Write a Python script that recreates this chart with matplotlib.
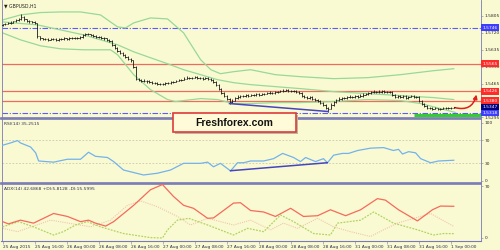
import matplotlib

matplotlib.use("Agg")
import matplotlib.pyplot as plt
import numpy as np
from matplotlib.patches import Rectangle
from matplotlib.transforms import blended_transform_factory

# GBPUSD H1, prices kept in pips above BASE
BASE = 1.5300
first_open_pips = 458
close_pips = [
    462, 465, 470, 472, 478, 485, 490, 500, 488, 480, 478, 474, 470, 402,
    392, 390, 388, 386, 390, 388, 385, 388, 390, 392, 390, 393, 395, 392, 395, 398,
    408, 415, 412, 410, 405, 400, 398, 395, 392, 385, 380,
    360, 345, 330, 320, 310, 300, 290, 282, 250, 190,
    185, 180, 178, 176, 175, 170, 168, 165, 163, 165, 168, 170, 172, 175,
    180, 183, 185, 190, 195, 193, 195, 198, 195, 193, 190, 192, 188, 185,
    175, 160, 140, 120, 105, 90, 72, 80, 95,
    100, 105, 102, 108, 105, 110, 108, 112, 110, 113,
    115, 118, 120, 118, 122, 125, 128, 130, 132, 128, 130, 127, 125, 120,
    105, 100, 95, 98, 90, 85, 80, 70, 60, 45, 40,
    60, 75, 85, 90, 95, 92, 98, 100, 98, 102, 100, 105,
    110, 115, 118, 122, 125, 123, 125, 128, 125, 122, 125,
    110, 100, 105, 98, 102, 95, 100, 105, 100, 98,
    80, 65, 55, 45, 42, 40, 42, 38, 40, 42, 44, 42, 45, 47,
]
high_pips = [
    466, 470, 474, 478, 482, 490, 496, 515, 504, 492, 486, 482, 478, 472,
    405, 396, 394, 392, 395, 394, 392, 393, 395, 397, 396, 398, 400, 399, 400, 404,
    413, 420, 419, 416, 414, 409, 404, 402, 399, 396, 390,
    383, 364, 350, 335, 324, 314, 305, 294, 285, 254,
    195, 190, 186, 183, 181, 179, 175, 172, 170, 170, 173, 175, 177, 180,
    185, 188, 190, 196, 201, 199, 200, 204, 202, 199, 197, 197, 196, 193,
    189, 178, 164, 144, 125, 110, 94, 86, 100,
    106, 110, 109, 113, 112, 115, 114, 117, 116, 118,
    120, 123, 126, 124, 127, 130, 134, 136, 137, 136, 135, 134, 132, 129,
    123, 110, 104, 103, 102, 95, 90, 84, 75, 64, 50,
    66, 80, 90, 96, 100, 99, 103, 106, 104, 108, 106, 111,
    116, 120, 124, 128, 131, 129, 131, 134, 132, 129, 130,
    128, 114, 110, 109, 107, 106, 105, 110, 109, 104,
    101, 84, 69, 58, 49, 46, 47, 45, 44, 46, 48, 47, 49, 50,
]
low_pips = [
    455, 458, 462, 466, 468, 474, 480, 486, 482, 474, 472, 468, 462, 396,
    386, 384, 382, 380, 382, 383, 380, 381, 384, 386, 385, 386, 389, 387, 388, 391,
    395, 404, 407, 405, 400, 395, 392, 390, 386, 380, 372,
    355, 338, 325, 314, 303, 294, 284, 275, 245, 182,
    178, 174, 172, 170, 169, 164, 162, 158, 156, 158, 160, 163, 165, 168,
    171, 176, 178, 181, 186, 188, 189, 191, 190, 187, 185, 186, 182, 178,
    170, 152, 132, 112, 98, 82, 65, 68, 76,
    90, 95, 97, 98, 100, 101, 103, 104, 105, 106,
    109, 111, 114, 113, 114, 118, 121, 123, 126, 122, 123, 121, 119, 113,
    98, 94, 88, 90, 84, 78, 73, 62, 52, 38, 25,
    36, 55, 70, 80, 85, 86, 88, 93, 92, 94, 95, 96,
    100, 106, 110, 113, 117, 118, 118, 120, 120, 116, 117,
    104, 93, 95, 92, 93, 89, 90, 96, 94, 92,
    74, 58, 49, 40, 37, 35, 36, 33, 34, 36, 38, 37, 38, 42,
]

# band lines (bar position, pips)
upper_bars = [0, 6.7, 14.2, 21.7, 29.2, 36.7, 40.4, 43.1, 46.1, 49.1, 55.4, 61.8, 67.8,
              74.2, 78, 81.6, 86.5, 92.9, 102.2, 111.6, 124, 136.7, 149, 161.4, 169]
upper_pips = [485, 510, 522, 525, 525, 510, 475, 450, 445, 470, 495, 490, 420,
              285, 235, 215, 225, 235, 210, 200, 190, 195, 210, 230, 240]
middle_bars = [0, 13.1, 21.7, 30.3, 36.7, 43.1, 49.1, 55.4, 61.8, 67.8, 74.2, 80.5,
               86.5, 92.9, 102.2, 111.6, 124, 136.7, 149, 161.4, 169]
middle_pips = [475, 460, 435, 410, 385, 360, 325, 295, 265, 235, 210, 185,
               170, 160, 150, 140, 125, 115, 105, 95, 85]
lower_bars = [0, 6.7, 14.2, 21.7, 30.3, 40.4, 43.1, 46.1, 49.1, 55.4, 61.8, 64.8, 67.8,
              74.2, 80.5, 86.5, 92.9, 102.2, 111.6, 124, 136.7, 149, 156.6, 164, 169.7]
lower_pips = [420, 385, 355, 340, 335, 335, 310, 260, 210, 135, 85, 75, 80,
              90, 85, 65, 65, 70, 70, 75, 85, 80, 65, 40, 20]

# RSI(14)
rsi_bars = [0, 3, 5.6, 6.7, 10.5, 12.4, 13.5, 19.1, 24.3, 29.2, 32.2, 34.8, 39.3, 41.6,
            45.3, 52.8, 58, 62.9, 67.8, 74.2, 76.8, 79, 81.6, 85.4, 88, 90.3, 92.9,
            97.8, 101.5, 104.9, 109, 111.6, 113.5, 117.2, 120.2, 121.7, 124, 127.3,
            129.6, 133, 137.8, 142.7, 146.4, 148.3, 149.8, 152.1, 154.7, 156.6, 160.3,
            163.3, 169]
rsi_vals = [61, 65, 69, 65, 58, 48, 34, 32, 37, 37, 49, 42, 40, 33,
            18.5, 10, 13, 18.5, 30, 30, 32, 24, 30, 17, 31, 31, 34,
            34, 38, 47, 40, 33, 40, 33, 38, 31, 44, 47,
            47, 52, 56, 57, 52, 54, 46, 50, 48, 38, 31,
            34, 35.25]

# ADX(14) with +DI / -DI
adx_bars = [0, 2.2, 6.7, 11.6, 19.1, 24.3, 29.2, 32.2, 34.8, 38.6, 41.6, 49.1, 55.4,
            59.9, 64, 67.8, 71.5, 76.8, 79, 86.5, 89.1, 92.9, 97.8, 102.2, 107.9,
            112.7, 118, 122.8, 128.5, 134.1, 140.4, 143.4, 148.3, 155.4, 161, 164, 169]
adx_vals = [22, 19, 24, 20, 33, 29, 22, 24, 20, 16, 22, 44, 65,
            72, 56, 44, 40, 26.5, 27, 47, 47.5, 37, 35, 29, 40,
            29, 30, 38, 30, 38, 53, 51, 38, 23, 38, 43, 42.69]
pdi_bars = [0, 6, 11.6, 19.1, 22.8, 27.3, 31.8, 36.7, 45.3, 55.4, 59.9, 61.8, 65.5,
            69.7, 76.8, 86.5, 91.8, 97.8, 104.1, 109, 116.5, 122.8, 125.5, 134.1,
            139, 146.4, 155.4, 161.4, 165.2, 169]
pdi_vals = [15, 22, 15, 4, 8.5, 17.5, 22, 15, 6, 0.5, 0, 11, 24,
            26.5, 17.5, 4, 13, 8.5, 31, 22, 6, 4, 20, 24,
            35, 20, 11, 4, 6, 5.81]
mdi_bars = [0, 5.6, 18.0, 33.0, 40.4, 46.8, 51.7, 58.1, 65.5, 70.4, 76.8, 86.5,
            92.9, 100.4, 105.2, 110.5, 118.0, 124, 130.3, 137.8, 142.7, 147.9, 160.3, 169]
mdi_vals = [13, 8.5, 24, 15, 24, 44, 50, 42, 29, 17.5, 26.5, 17.5,
            24, 11, 20, 13, 26.5, 15, 8.5, 2, 11, 20, 33, 15.6]

date_labels = ["25 Aug 2015", "25 Aug 16:00", "26 Aug 00:00", "26 Aug 08:00",
               "26 Aug 16:00", "27 Aug 00:00", "27 Aug 08:00", "27 Aug 16:00",
               "28 Aug 00:00", "28 Aug 08:00", "28 Aug 16:00", "31 Aug 00:00",
               "31 Aug 08:00", "31 Aug 16:00", "1 Sep 00:00"]
bars_per_label = 12

# 1.5380 grid label sits under the red box, so only the box shows it
axis_prices = [1.5805, 1.5720, 1.5635, 1.5550, 1.5465, 1.5295]
red_levels = [1.5565, 1.5426, 1.5380]
blue_levels = [1.5746, 1.5318]
support_level = 1.53075
support_from_bar = 154
price_boxes = [(1.5746, "#3d3dff"), (1.5565, "#ff2a2a"), (1.5426, "#ff2a2a"),
               (1.5380, "#ff2a2a"), (1.5347, "#000080"), (1.5318, "#3d3dff")]
# divergence lines (bar, value)
price_div = [(85, 1.5365), (122, 1.5325)]
rsi_div = [(85.4, 17.3), (121.6, 31.0)]
arrow_from = (169.3, 1.5345)
arrow_to = (177.5, 1.5410)

BG = "#fafad2"
FRAME = "#7a7ab8"
INK = "#1a1a1a"
GREEN_BAND = "#98d898"


def px(pips):
    return BASE + np.asarray(pips, dtype=float) / 10000.0


def style_frame(ax, top=1.0, bottom=1.0):
    for spine in ax.spines.values():
        spine.set_color(FRAME)
        spine.set_linewidth(0.6)
    ax.spines["top"].set_linewidth(top)
    ax.spines["bottom"].set_linewidth(bottom)
    ax.set_facecolor(BG)


fig = plt.figure(figsize=(5, 2.5), dpi=100, facecolor=BG)
left, width = 0.003, 0.959
ax = fig.add_axes([left, 0.530, width, 0.468])
ax_rsi = fig.add_axes([left, 0.270, width, 0.256])
ax_adx = fig.add_axes([left, 0.038, width, 0.228])
xlim = (-0.4, 179.2)

# ---- price panel
style_frame(ax, top=0.0, bottom=1.2)
ax.spines["top"].set_visible(False)
n = len(close_pips)
idx = np.arange(n)
closes = px(close_pips)
opens = px([first_open_pips] + close_pips[:-1])
ax.plot(upper_bars, px(upper_pips), color=GREEN_BAND, lw=0.9, zorder=2)
ax.plot(middle_bars, px(middle_pips), color=GREEN_BAND, lw=0.9, zorder=2)
ax.plot(lower_bars, px(lower_pips), color=GREEN_BAND, lw=0.9, zorder=2)
for lvl in red_levels:
    ax.axhline(lvl, color="#f06a5e", lw=0.9, zorder=1)
for lvl in blue_levels:
    ax.axhline(lvl, color="#5a5aff", lw=0.8, ls=(0, (5, 1.5, 1, 1.5)), zorder=1)
ax.plot([support_from_bar, xlim[1]], [support_level, support_level],
        color="#33cc33", lw=2.2, solid_capstyle="butt", zorder=3)
ax.vlines(idx, px(low_pips), px(high_pips), color=INK, lw=0.6, zorder=4)
ax.hlines(opens, idx - 0.45, idx, color=INK, lw=0.6, zorder=4)
ax.hlines(closes, idx, idx + 0.45, color=INK, lw=0.6, zorder=4)
ax.plot(*zip(*price_div), color="#4545c0", lw=1.1, zorder=5)
ax.annotate("", xy=arrow_to, xytext=arrow_from, annotation_clip=False,
            arrowprops=dict(arrowstyle="-|>", connectionstyle="arc3,rad=0.5",
                            color="#e01e1e", lw=1.1, mutation_scale=6,
                            shrinkA=0, shrinkB=0))
ax.set_xlim(*xlim)
ax.set_ylim(1.52975, 1.58825)
ax.set_xticks([])
ax.yaxis.tick_right()
ax.set_yticks(axis_prices)
ax.set_yticklabels([f"{v:.4f}" for v in axis_prices])
ax.tick_params(axis="y", labelsize=3.2, length=1.5, width=0.4, pad=1,
               color=FRAME, labelcolor="#2a2a2a")
trans = blended_transform_factory(ax.transAxes, ax.transData)
for val, col in price_boxes:
    ax.text(1.003, val, f"{val:.4f}", transform=trans, fontsize=3.2, color="white",
            va="center", ha="left", clip_on=False, zorder=6,
            bbox=dict(boxstyle="square,pad=0.3", fc=col, ec="none"))
ax.text(0.006, 0.955, "\u25bc GBPUSD,H1", transform=ax.transAxes, fontsize=3.3,
        color="#202020", va="center", ha="left")

# ---- RSI panel
style_frame(ax_rsi, top=1.2, bottom=1.2)
for lvl in (70, 30):
    ax_rsi.axhline(lvl, color="#c8c8b0", lw=0.6, ls=(0, (2, 2)), zorder=1)
ax_rsi.plot(rsi_bars, rsi_vals, color="#72b2ee", lw=0.9, zorder=3)
ax_rsi.plot(*zip(*rsi_div), color="#4545c0", lw=1.1, zorder=4)
ax_rsi.set_xlim(*xlim)
ax_rsi.set_ylim(-2.9, 106.9)
ax_rsi.set_xticks([])
ax_rsi.yaxis.tick_right()
ax_rsi.set_yticks([100, 70, 30, 0])
ax_rsi.set_yticklabels(["100", "70", "30", "0"])
ax_rsi.tick_params(axis="y", labelsize=3.2, length=1.5, width=0.4, pad=1,
                   color=FRAME, labelcolor="#2a2a2a")
ax_rsi.text(0.006, 0.91, "RSI(14) 35.2515", transform=ax_rsi.transAxes,
            fontsize=3.2, color="#303050", va="center")

# ---- ADX panel
style_frame(ax_adx, top=1.2, bottom=0.8)
ax_adx.plot(mdi_bars, mdi_vals, color="#f0c4ae", lw=0.8, ls=(0, (1, 1)), zorder=2)
ax_adx.plot(pdi_bars, pdi_vals, color="#b2d264", lw=0.9, ls=(0, (1.5, 1)), zorder=3)
ax_adx.plot(adx_bars, adx_vals, color="#f66a5c", lw=0.9, zorder=4)
ax_adx.set_xlim(*xlim)
ax_adx.set_ylim(-3.4, 73.4)
ax_adx.yaxis.tick_right()
ax_adx.set_yticks([70, 0])
ax_adx.set_yticklabels(["70", "0"])
ax_adx.tick_params(axis="y", labelsize=3.2, length=1.5, width=0.4, pad=1,
                   color=FRAME, labelcolor="#2a2a2a")
ax_adx.set_xticks(np.arange(len(date_labels)) * bars_per_label)
ax_adx.set_xticklabels(date_labels, ha="left")
ax_adx.tick_params(axis="x", labelsize=3.1, length=2, width=0.4, pad=1,
                   color=FRAME, labelcolor="#2a2a50")
ax_adx.text(0.006, 0.90, "ADX(14) 42.6868 +DI:5.8128 -DI:15.5995",
            transform=ax_adx.transAxes, fontsize=3.2, color="#303050", va="center")

# ---- watermark
bx, by, bw, bh = 0.345, 0.473, 0.246, 0.0736
fig.add_artist(Rectangle((bx + 0.004, by - 0.008), bw, bh, transform=fig.transFigure,
                         fc="#b9b9a2", ec="none", zorder=10))
fig.add_artist(Rectangle((bx, by), bw, bh, transform=fig.transFigure,
                         fc="#fffbd8", ec="#e03a3a", lw=1.2, zorder=11))
fig.text(bx + bw / 2, by + bh / 2, "Freshforex.com", ha="center", va="center",
         fontsize=7.5, fontweight="bold", family="Liberation Sans", color="#111111",
         zorder=12)

fig.savefig("out.png", dpi=100, facecolor=BG)
